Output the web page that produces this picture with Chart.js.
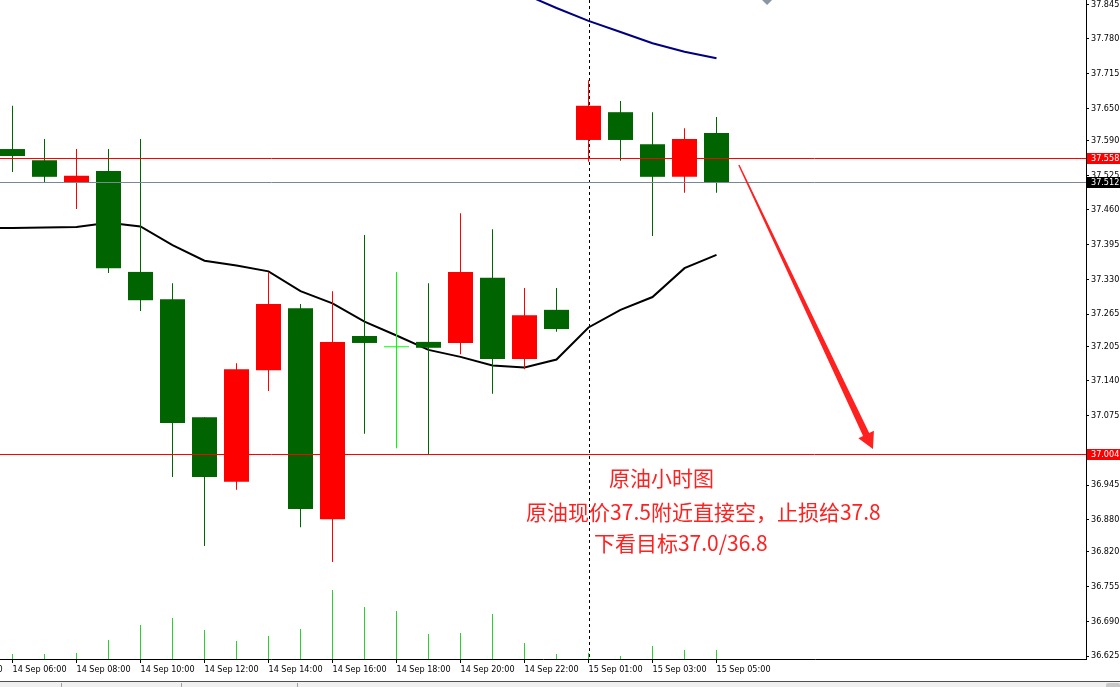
<!DOCTYPE html>
<html><head><meta charset="utf-8">
<script src="https://cdn.jsdelivr.net/npm/chart.js@4.4.1/dist/chart.umd.min.js"></script>
<style>
html,body{margin:0;padding:0;background:#fff;overflow:hidden}
#wrap{position:relative;width:1120px;height:687px;background:#fff}
canvas{display:block}
#tabs{position:absolute;left:0;top:681px;width:1120px;height:6px;background:#f0f0f0;border-top:1px solid #505050;box-sizing:border-box}
.sep{position:absolute;top:1px;width:1px;height:5px;background:#a0a0a0}
#scr{position:absolute;left:1106px;top:683px;width:14px;height:4px;background:#c8c8c8;border-radius:2px 2px 0 0}
</style></head><body>
<div id="wrap">
<canvas id="c" width="1120" height="681"></canvas>
<div id="tabs"><div class="sep" style="left:61px"></div><div class="sep" style="left:181px"></div><div class="sep" style="left:297px"></div></div>
<div id="scr"></div>
</div>
<script>
// ---- data ----
// time labels for bar indices -2 .. 22 (hourly)
const hours = ["14 Sep 04:00","14 Sep 05:00","14 Sep 06:00","14 Sep 07:00","14 Sep 08:00","14 Sep 09:00",
  "14 Sep 10:00","14 Sep 11:00","14 Sep 12:00","14 Sep 13:00","14 Sep 14:00","14 Sep 15:00","14 Sep 16:00",
  "14 Sep 17:00","14 Sep 18:00","14 Sep 19:00","14 Sep 20:00","14 Sep 21:00","14 Sep 22:00","14 Sep 23:00",
  "15 Sep 01:00","15 Sep 02:00","15 Sep 03:00","15 Sep 04:00","15 Sep 05:00"];
const hourOffset = 2;
const opens  = [37.574,37.553,37.512,37.533,37.344,37.293,37.072,36.951,37.160,37.276,36.881,37.224,37.203,37.213,37.211,37.333,37.181,37.273,37.591,37.643,37.583,37.522,37.604];
const highs  = [37.655,37.593,37.574,37.574,37.593,37.323,37.072,37.173,37.344,37.284,37.308,37.413,37.344,37.323,37.454,37.424,37.314,37.314,37.703,37.664,37.643,37.613,37.634];
const lows   = [37.531,37.512,37.462,37.342,37.271,36.960,36.831,36.936,37.121,36.866,36.801,37.041,37.014,37.003,37.190,37.116,37.162,37.232,37.550,37.552,37.411,37.492,37.492];
const closes = [37.561,37.522,37.524,37.351,37.291,37.061,36.960,37.162,37.284,36.900,37.213,37.211,37.203,37.202,37.344,37.181,37.263,37.237,37.655,37.591,37.522,37.593,37.512];
const volumes = [200,200,240,760,1360,1640,1160,720,920,1200,2760,2080,1920,1000,1040,1800,640,200,240,120,520,360,360];
// black moving average, indices -1 .. 22
const maFastStart = -1;
const maFast = [37.426,37.426,37.427,37.428,37.436,37.429,37.394,37.365,37.356,37.345,37.308,37.285,37.251,37.225,37.198,37.185,37.169,37.165,37.180,37.240,37.273,37.297,37.351,37.376];
// navy moving average, indices 16 .. 22
const maSlowStart = 16;
const maSlow = [37.864,37.838,37.814,37.793,37.772,37.756,37.744];
// price axis tick labels
const priceTicks = [37.845,37.780,37.715,37.650,37.590,37.525,37.460,37.395,37.330,37.265,37.205,37.140,37.075,36.945,36.880,36.820,36.755,36.690,36.625];
const timeTicks = [-2,0,2,4,6,8,10,12,14,16,18,20,22];
// horizontal levels
const levelStop = 37.558;   // red line
const levelBid = 37.512;    // bid line
const levelTarget = 37.004; // red line
const separatorIndex = 18;  // day separator
// arrow (index, price)
const arrowFrom = [22.70, 37.544];
const arrowTo = [26.89, 37.0125];
// notes (index of left edge, price of text centre)
const notes = [
  {x: 18.64, y: 36.958, text: "原油小时图"},
  {x: 16.05, y: 36.895, text: "原油现价37.5附近直接空，止损给37.8"},
  {x: 18.17, y: 36.837, text: "下看目标37.0/36.8"}
];
const marker = {x: 23.58, y: 37.853};

// ---- styles ----
const UP = '#ff0000', DOWN = '#006400', DOJI = '#00ff00';
const idx = opens.map((_, i) => i);
const candleColors = idx.map(i => closes[i] > opens[i] ? UP : (closes[i] < opens[i] ? DOWN : DOJI));
const FAM = '"DejaVu Sans Condensed", "Liberation Sans", Arial, sans-serif';
const axisFont = {family: FAM, size: 9};
const noPad = s => { s.paddingLeft = 0; s.paddingRight = 0; s.paddingTop = 0; s.paddingBottom = 0; };

const overlay = {
  id: 'overlay',
  beforeDatasetsDraw(chart) {
    const {ctx, chartArea: a, scales: {x}} = chart;
    const px = Math.round(x.getPixelForValue(separatorIndex)) + 0.5;
    ctx.save();
    ctx.strokeStyle = '#000'; ctx.lineWidth = 1; ctx.setLineDash([3, 3]);
    ctx.beginPath(); ctx.moveTo(px, a.top); ctx.lineTo(px, a.bottom); ctx.stroke();
    ctx.restore();
  },
  afterDatasetsDraw(chart) {
    const {ctx, chartArea: a, scales: {x, y}} = chart;
    ctx.save();
    ctx.beginPath(); ctx.rect(a.left, a.top, a.right - a.left, a.bottom - a.top); ctx.clip();
    const hline = (v, c) => {
      const py = Math.round(y.getPixelForValue(v)) + 0.5;
      ctx.strokeStyle = c; ctx.lineWidth = 1;
      ctx.beginPath(); ctx.moveTo(a.left, py); ctx.lineTo(a.right, py); ctx.stroke();
    };
    hline(levelStop, '#ff0000');
    hline(levelBid, '#778899');
    hline(levelTarget, '#ff0000');
    // arrow
    const x0 = x.getPixelForValue(arrowFrom[0]), y0 = y.getPixelForValue(arrowFrom[1]);
    const x1 = x.getPixelForValue(arrowTo[0]), y1 = y.getPixelForValue(arrowTo[1]);
    const dx = x1 - x0, dy = y1 - y0, L = Math.hypot(dx, dy);
    const ux = dx / L, uy = dy / L, nx = -uy, ny = ux;
    const headLen = 16, headW = 8.6, w0 = 0.7, w1 = 3.4;
    const bx = x1 - ux * headLen, by = y1 - uy * headLen;
    ctx.fillStyle = '#ff2020';
    ctx.beginPath();
    ctx.moveTo(x0 + nx * w0, y0 + ny * w0);
    ctx.lineTo(bx + nx * w1, by + ny * w1);
    ctx.lineTo(bx + nx * headW, by + ny * headW);
    ctx.lineTo(x1, y1);
    ctx.lineTo(bx - nx * headW, by - ny * headW);
    ctx.lineTo(bx - nx * w1, by - ny * w1);
    ctx.lineTo(x0 - nx * w0, y0 - ny * w0);
    ctx.closePath(); ctx.fill();
    // notes
    ctx.fillStyle = '#ff2020';
    ctx.font = '21px "Noto Sans CJK SC", sans-serif';
    ctx.textAlign = 'left'; ctx.textBaseline = 'middle';
    notes.forEach(n => ctx.fillText(n.text, x.getPixelForValue(n.x), y.getPixelForValue(n.y)));
    ctx.restore();
  },
  afterDraw(chart) {
    const {ctx, chartArea: a, scales: {y}} = chart;
    ctx.save();
    const box = (v, bg) => {
      const py = Math.round(y.getPixelForValue(v));
      ctx.fillStyle = bg;
      ctx.fillRect(a.right + 1, py - 5, chart.width - a.right - 1, 11);
      ctx.fillStyle = '#fff';
      ctx.font = '9px ' + FAM;
      ctx.textAlign = 'left'; ctx.textBaseline = 'middle';
      ctx.fillText(v.toFixed(3), a.right + 5, py + 0.5);
    };
    box(levelStop, '#ff0000');
    box(levelBid, '#000000');
    box(levelTarget, '#ff0000');
    ctx.restore();
  }
};

new Chart(document.getElementById('c'), {
  type: 'bar',
  data: {
    datasets: [
      {
        type: 'scatter', data: [marker], pointStyle: 'rectRot', pointRadius: 5,
        backgroundColor: '#8a96a6', borderWidth: 0, order: 0
      },
      {
        label: 'body', data: idx.map(i => ({x: i, y: [opens[i], closes[i]]})),
        backgroundColor: candleColors, barThickness: 25, minBarLength: 1,
        grouped: false, inflateAmount: 0, borderWidth: 0, order: 1
      },
      {
        label: 'wick', data: idx.map(i => ({x: i, y: [lows[i], highs[i]]})),
        backgroundColor: candleColors, barThickness: 1,
        grouped: false, inflateAmount: 0, borderWidth: 0, order: 2
      },
      {
        type: 'line', label: 'MA fast', data: maFast.map((v, k) => ({x: k + maFastStart, y: v})),
        borderColor: '#000000', borderWidth: 2, pointRadius: 0, tension: 0, order: 3
      },
      {
        type: 'line', label: 'MA slow', data: maSlow.map((v, k) => ({x: k + maSlowStart, y: v})),
        borderColor: '#000080', borderWidth: 2, pointRadius: 0, tension: 0, order: 3
      },
      {
        label: 'volume', yAxisID: 'yv', data: idx.map(i => ({x: i, y: volumes[i]})),
        backgroundColor: '#32cd32', barThickness: 1,
        grouped: false, inflateAmount: 0, borderWidth: 0, order: 5
      }
    ]
  },
  options: {
    responsive: false, animation: false, devicePixelRatio: 1,
    layout: {padding: 0, autoPadding: false},
    plugins: {legend: {display: false}, tooltip: {enabled: false}},
    scales: {
      x: {
        type: 'linear', position: 'bottom', min: -0.390625, max: 33.546875, bounds: 'data', offset: false,
        afterBuildTicks: s => { s.ticks = timeTicks.map(v => ({value: v})); },
        afterFit: s => { s.height = 22; noPad(s); },
        ticks: {autoSkip: false, maxRotation: 0, minRotation: 0, align: 'start', padding: 1,
                font: axisFont, color: '#000', callback: v => hours[v + hourOffset]},
        grid: {drawOnChartArea: false, drawTicks: true, tickLength: 4, offset: false, color: '#000', tickColor: '#000'},
        border: {display: true, color: '#000', width: 1}
      },
      y: {
        type: 'linear', position: 'right', min: 36.6194, max: 37.8530, bounds: 'data', offset: false,
        afterBuildTicks: s => { s.ticks = priceTicks.map(v => ({value: v})); },
        afterFit: s => { s.width = 34; noPad(s); },
        ticks: {autoSkip: false, padding: 2, font: axisFont, color: '#000', callback: v => v.toFixed(3)},
        grid: {drawOnChartArea: false, drawTicks: true, tickLength: 3, color: '#000', tickColor: '#000'},
        border: {display: true, color: '#000', width: 1}
      },
      yv: {type: 'linear', display: false, min: 0, max: 26360}
    }
  },
  plugins: [overlay]
});
</script>
</body></html>
